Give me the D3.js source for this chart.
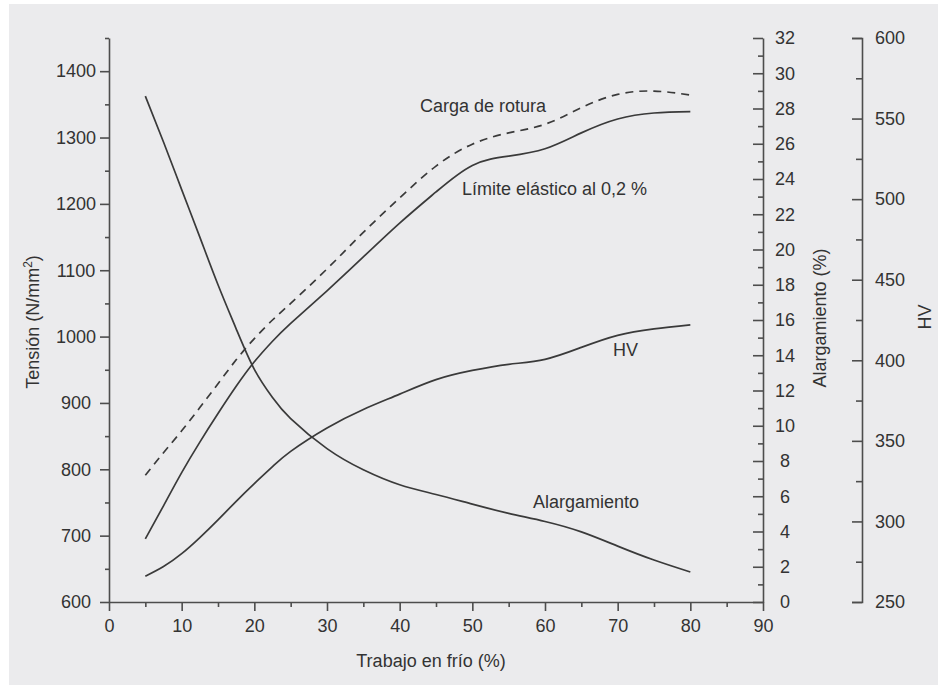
<!DOCTYPE html>
<html>
<head>
<meta charset="utf-8">
<script src="https://cdn.jsdelivr.net/npm/d3@7"></script>
<style>
  html, body { margin: 0; padding: 0; background: #ffffff; }
  svg { display: block; }
  text { font-family: "Liberation Sans", Arial, Helvetica, sans-serif; fill: #333333; }
</style>
</head>
<body>
<svg id="chart" width="938" height="686"></svg>
<script>
// ---- data ----
const trabajo = [5, 7.5, 10, 12.5, 15, 17.5, 20, 22.5, 25, 30, 35, 40, 45, 50, 55, 60, 65, 70, 75, 80];
const cargaRotura = [791, 825, 858, 893, 929, 965, 997, 1025, 1050, 1102, 1157, 1209, 1257, 1290, 1307, 1320, 1345, 1365, 1370, 1364];
const limiteElastico = [695, 745, 795, 841, 884, 925, 962, 993, 1020, 1069, 1120, 1171, 1218, 1258, 1272, 1283, 1307, 1328, 1337, 1339];
const durezaHV = [266, 272, 280, 290, 301, 312.5, 323.5, 334, 343.5, 358, 369.5, 379, 388, 393.7, 397.5, 400.6, 408, 415.5, 419.5, 422];
const alargamiento = [28.7, 26.1, 23.4, 20.7, 18.0, 15.5, 13.2, 11.6, 10.4, 8.7, 7.5, 6.65, 6.1, 5.55, 5.03, 4.57, 3.98, 3.17, 2.38, 1.70];

const xTicks = [0, 10, 20, 30, 40, 50, 60, 70, 80, 90];
const xMinorTicks = [5, 15, 25, 35, 45, 55, 65, 75, 85];
const tensionTicks = [600, 700, 800, 900, 1000, 1100, 1200, 1300, 1400];
const tensionMinor = [650, 750, 850, 950, 1050, 1150, 1250, 1350, 1450];
const alargTicks = [0, 2, 4, 6, 8, 10, 12, 14, 16, 18, 20, 22, 24, 26, 28, 30, 32];
const alargMinor = [1, 3, 5, 7, 9, 11, 13, 15, 17, 19, 21, 23, 25, 27, 29, 31];
const hvTicks = [250, 300, 350, 400, 450, 500, 550, 600];
const hvMinor = [275, 325, 375, 425, 475, 525, 575];

const labels = {
  x: "Trabajo en frío (%)",
  carga: "Carga de rotura",
  limite: "Límite elástico al 0,2 %",
  hv: "HV",
  alarg: "Alargamiento",
  yAlarg: "Alargamiento (%)",
  yHV: "HV"
};

// ---- layout ----
const svg = d3.select("#chart");
const FS = 18;
const ink = "#333333";
const axisInk = "#4d4d4d";

svg.append("rect").attr("x", 9).attr("y", 4).attr("width", 929).attr("height", 681).attr("fill", "#ebebed");

const x = d3.scaleLinear().domain([0, 90]).range([109, 763]);
const yT = d3.scaleLinear().domain([600, 1450]).range([602, 38]);
const yA = d3.scaleLinear().domain([0, 32]).range([602, 38]);
const yH = d3.scaleLinear().domain([250, 600]).range([602, 38]);

function styleAxis(g) {
  g.selectAll("path.domain").attr("stroke", axisInk).attr("stroke-width", 1.6);
  g.selectAll(".tick line").attr("stroke", axisInk).attr("stroke-width", 1.6);
  g.selectAll(".tick text").attr("fill", ink).style("font-size", FS + "px")
    .style("font-family", '"Liberation Sans", Arial, sans-serif');
}

// X axis
const gxMinor = svg.append("g").attr("transform", "translate(0,602)")
  .call(d3.axisBottom(x).tickValues(xMinorTicks).tickSize(5).tickSizeOuter(0).tickFormat(""));
gxMinor.select("path.domain").remove();
styleAxis(gxMinor);
const gx = svg.append("g").attr("transform", "translate(0,602)")
  .call(d3.axisBottom(x).tickValues(xTicks).tickSize(9).tickSizeOuter(0).tickPadding(8).tickFormat(d3.format("d")));
styleAxis(gx);

// Left axis (Tensión)
const gyMinor = svg.append("g").attr("transform", "translate(109,0)")
  .call(d3.axisLeft(yT).tickValues(tensionMinor).tickSize(4).tickSizeOuter(0).tickFormat(""));
gyMinor.select("path.domain").remove();
styleAxis(gyMinor);
const gy = svg.append("g").attr("transform", "translate(109,0)")
  .call(d3.axisLeft(yT).tickValues(tensionTicks).tickSize(9).tickSizeOuter(0).tickFormat(d3.format("d")));
styleAxis(gy);
gy.selectAll(".tick text").attr("text-anchor", "middle").attr("x", -33);

// Right axis 1 (Alargamiento)
const gaMinor = svg.append("g").attr("transform", "translate(763,0)")
  .call(d3.axisRight(yA).tickValues(alargMinor).tickSize(-5).tickSizeOuter(0).tickFormat(""));
gaMinor.select("path.domain").remove();
styleAxis(gaMinor);
const ga = svg.append("g").attr("transform", "translate(763,0)")
  .call(d3.axisRight(yA).tickValues(alargTicks).tickSize(-10).tickSizeOuter(0).tickPadding(22).tickFormat(d3.format("d")));
styleAxis(ga);
ga.selectAll(".tick text").attr("text-anchor", "middle");

// Right axis 2 (HV)
const ghMinor = svg.append("g").attr("transform", "translate(862,0)")
  .call(d3.axisRight(yH).tickValues(hvMinor).tickSize(-6).tickSizeOuter(0).tickFormat(""));
ghMinor.select("path.domain").remove();
styleAxis(ghMinor);
const gh = svg.append("g").attr("transform", "translate(862,0)")
  .call(d3.axisRight(yH).tickValues(hvTicks).tickSize(-10).tickSizeOuter(-10).tickPadding(13).tickFormat(d3.format("d")));
styleAxis(gh);

// ---- curves ----
const curve = d3.curveNatural;
function addLine(values, yScale, dash) {
  const pts = trabajo.map((t, i) => [t, values[i]]);
  const line = d3.line().x(d => x(d[0])).y(d => yScale(d[1])).curve(curve);
  svg.append("path").datum(pts).attr("d", line)
    .attr("fill", "none").attr("stroke", "#3a3a3a").attr("stroke-width", 1.7)
    .attr("stroke-dasharray", dash || null);
}
addLine(cargaRotura, yT, "8,6");
addLine(limiteElastico, yT);
addLine(durezaHV, yH);
addLine(alargamiento, yA);

// ---- curve labels ----
function label(txt, px, py) {
  svg.append("text").attr("x", px).attr("y", py).style("font-size", FS + "px").attr("fill", ink).text(txt);
}
label(labels.carga, 420, 112);
label(labels.limite, 462, 195);
label(labels.hv, 613, 356);
label(labels.alarg, 533, 508);

// ---- axis titles ----
svg.append("text").attr("x", 431).attr("y", 667).attr("text-anchor", "middle")
  .style("font-size", FS + "px").text(labels.x);

const tt = svg.append("text").attr("transform", "translate(39,322) rotate(-90)")
  .attr("text-anchor", "middle").style("font-size", FS + "px");
tt.append("tspan").text("Tensión (N/mm");
tt.append("tspan").attr("dy", -7).style("font-size", "12px").text("2");
tt.append("tspan").attr("dy", 7).text(")");

svg.append("text").attr("transform", "translate(826,318) rotate(-90)")
  .attr("text-anchor", "middle").style("font-size", FS + "px").text(labels.yAlarg);
svg.append("text").attr("transform", "translate(931,317) rotate(-90)")
  .attr("text-anchor", "middle").style("font-size", FS + "px").text(labels.yHV);
</script>
</body>
</html>
